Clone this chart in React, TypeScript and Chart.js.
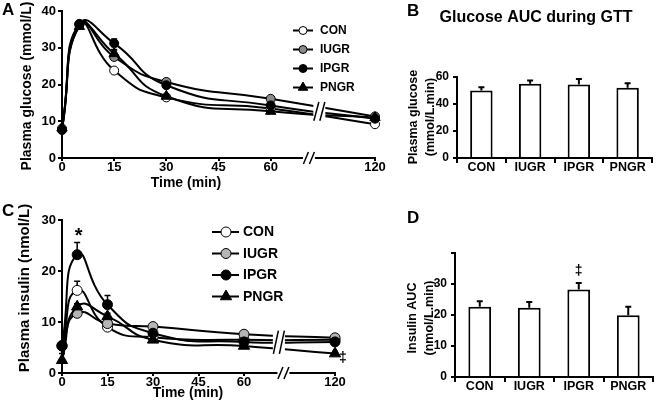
import React, { useEffect, useRef } from 'react';
import { Chart, registerables } from 'chart.js';

Chart.register(...registerables);

const FAMILY = "'Liberation Sans', Arial, Helvetica, sans-serif";

// ---------- data ----------
const groups = ['CON', 'IUGR', 'IPGR', 'PNGR'];
const times = [0, 5, 15, 30, 60, 120];
const timeTicks = [0, 15, 30, 45, 60, 120];

// Panel A: plasma glucose (mmol/L)
const glucoseCON = [7.8, 36.3, 23.8, 16.5, 13.5, 9.2];
const glucoseIUGR = [8.0, 36.5, 27.5, 20.7, 16.1, 11.3];
const glucoseIPGR = [7.6, 36.4, 31.2, 19.8, 14.3, 10.7];
const glucosePNGR = [8.2, 35.8, 28.4, 16.8, 12.7, 11.0];
const glucoseErrCON = [0.4, 0.6, 0.6, 0.5, 0.5, 0.4];
const glucoseErrIUGR = [0.4, 0.6, 2.0, 0.8, 0.5, 0.5];
const glucoseErrIPGR = [0.4, 0.6, 1.2, 0.6, 0.6, 0.5];
const glucoseErrPNGR = [0.4, 0.6, 1.0, 0.5, 0.5, 0.5];

// Panel C: plasma insulin (nmol/L)
const insulinCON = [5.3, 16.2, 9.0, 7.0, 6.5, 6.5];
const insulinIUGR = [5.4, 11.7, 9.7, 9.1, 7.6, 6.9];
const insulinIPGR = [5.3, 23.2, 13.4, 7.8, 6.1, 6.1];
const insulinPNGR = [2.5, 13.0, 11.1, 6.5, 5.3, 3.8];
const insulinErrCON = [0.5, 1.8, 0.5, 0.5, 0.6, 0.5];
const insulinErrIUGR = [0.4, 0.6, 0.6, 0.7, 0.7, 0.7];
const insulinErrIPGR = [0.5, 2.4, 1.8, 0.6, 0.5, 0.5];
const insulinErrPNGR = [1.3, 0.6, 0.6, 0.4, 0.4, 0.4];

// Panel B: glucose AUC (mmol/L.min)
const glucoseAUC = [50.0, 55.0, 54.5, 52.0];
const glucoseAUCErr = [2.5, 2.5, 4.0, 3.3];

// Panel D: insulin AUC (nmol/L.min)
const insulinAUC = [22.7, 22.3, 28.2, 19.9];
const insulinAUCErr = [1.7, 1.9, 2.1, 2.8];

// broken time axis: everything after 60 min is drawn at position 90
const BREAK_AFTER = 60;
const BROKEN_POS = 90;
const toAxis = (t: number) => (t <= BREAK_AFTER ? t : BROKEN_POS);

// ---------- helpers ----------
type Txt = { text: string; x: number; y: number; size: number; align?: CanvasTextAlign; rotate?: boolean };

function drawMarker(ctx: CanvasRenderingContext2D, tri: boolean, x: number, y: number, r: number, fill: string) {
  ctx.save();
  ctx.beginPath();
  if (!tri) {
    ctx.arc(x, y, r, 0, Math.PI * 2);
  } else {
    let a = 0;
    for (let k = 0; k < 3; k++) {
      const px = x + Math.sin(a) * r;
      const py = y - Math.cos(a) * r;
      if (k === 0) ctx.moveTo(px, py);
      else ctx.lineTo(px, py);
      a += (Math.PI * 2) / 3;
    }
    ctx.closePath();
  }
  ctx.fillStyle = fill;
  ctx.fill();
  ctx.lineWidth = 1;
  ctx.strokeStyle = '#000';
  ctx.stroke();
  ctx.restore();
}

const textPlugin = (id: string, items: Txt[]) => ({
  id,
  afterDraw(chart: any) {
    const ctx = chart.ctx as CanvasRenderingContext2D;
    items.forEach((t) => {
      ctx.save();
      ctx.font = `bold ${t.size}px ${FAMILY}`;
      ctx.fillStyle = '#000';
      ctx.textAlign = t.align || 'center';
      ctx.textBaseline = 'middle';
      ctx.translate(t.x, t.y);
      if (t.rotate) ctx.rotate(-Math.PI / 2);
      ctx.fillText(t.text, 0, 0);
      ctx.restore();
    });
  },
});

const legendPlugin = (
  id: string,
  s: { x1: number; x2: number; mx: number; tx: number; ys: number[]; r: number; size: number; fills: string[] }
) => ({
  id,
  afterDraw(chart: any) {
    const ctx = chart.ctx as CanvasRenderingContext2D;
    groups.forEach((g, i) => {
      const y = s.ys[i];
      ctx.save();
      ctx.strokeStyle = '#000';
      ctx.lineWidth = 2;
      ctx.beginPath();
      ctx.moveTo(s.x1, y);
      ctx.lineTo(s.x2, y);
      ctx.stroke();
      drawMarker(ctx, i === 3, s.mx, y, i === 3 ? s.r + 1.5 : s.r, s.fills[i]);
      ctx.font = `bold ${s.size}px ${FAMILY}`;
      ctx.fillStyle = '#000';
      ctx.textAlign = 'left';
      ctx.textBaseline = 'middle';
      ctx.fillText(g, s.tx, y + 0.5);
      ctx.restore();
    });
  },
});

const errorPlugin = (id: string, capHalf: number, width: number, after: boolean) => {
  const draw = (chart: any) => {
    const ctx = chart.ctx as CanvasRenderingContext2D;
    const ys = chart.scales.y;
    ctx.save();
    ctx.strokeStyle = '#000';
    ctx.lineWidth = width;
    chart.data.datasets.forEach((ds: any, i: number) => {
      const meta = chart.getDatasetMeta(i);
      meta.data.forEach((el: any, j: number) => {
        const d = ds.data[j];
        const v = typeof d === 'number' ? d : d.y;
        const top = ys.getPixelForValue(v + ds.err[j]);
        ctx.beginPath();
        ctx.moveTo(el.x, el.y);
        ctx.lineTo(el.x, top);
        ctx.moveTo(el.x - capHalf, top);
        ctx.lineTo(el.x + capHalf, top);
        ctx.stroke();
      });
    });
    ctx.restore();
  };
  return after ? { id, afterDatasetsDraw: draw } : { id, beforeDatasetsDraw: draw };
};

const breakPlugin = (id: string, lineBreakPos: number, axisBreakPos: number) => ({
  id,
  afterDatasetsDraw(chart: any) {
    const ctx = chart.ctx as CanvasRenderingContext2D;
    const { x } = chart.scales;
    const area = chart.chartArea;
    const bx = x.getPixelForValue(lineBreakPos);
    const ys: number[] = [];
    chart.data.datasets.forEach((_d: any, i: number) => {
      const m = chart.getDatasetMeta(i);
      const p1 = m.data[4];
      const p2 = m.data[5];
      const f = (bx - p1.x) / (p2.x - p1.x);
      ys.push(p1.y + f * (p2.y - p1.y));
    });
    const yTop = Math.min(...ys) - 5;
    const yBot = Math.max(...ys) + 5;
    ctx.save();
    ctx.fillStyle = '#fff';
    ctx.fillRect(bx - 6, yTop - 2, 12, yBot - yTop + 4);
    ctx.strokeStyle = '#000';
    ctx.lineWidth = 1.5;
    [-3, 3].forEach((dx) => {
      ctx.beginPath();
      ctx.moveTo(bx + dx + 2.5, yTop);
      ctx.lineTo(bx + dx - 2.5, yBot);
      ctx.stroke();
    });
    const ax = x.getPixelForValue(axisBreakPos);
    const by = area.bottom;
    ctx.fillRect(ax - 6, by - 3, 12, 6);
    [-3, 3].forEach((dx) => {
      ctx.beginPath();
      ctx.moveTo(ax + dx + 2.5, by - 6);
      ctx.lineTo(ax + dx - 2.5, by + 6);
      ctx.stroke();
    });
    ctx.restore();
  },
});

function lineDatasets(values: number[][], errs: number[][], fills: string[], r: number) {
  return groups.map((g, i) => ({
    label: g,
    data: times.map((t, j) => ({ x: toAxis(t), y: values[i][j] })),
    err: errs[i],
    order: 3 - i,
    borderColor: '#000',
    borderWidth: 2,
    tension: 0.55,
    clip: false as any,
    pointStyle: i === 3 ? 'triangle' : 'circle',
    pointRadius: i === 3 ? r + 1.5 : r,
    pointBackgroundColor: fills[i],
    pointBorderColor: '#000',
    pointBorderWidth: 1,
  }));
}

function lineOptions(p: {
  top: number; right: number; yWidth: number; xHeight: number; yMax: number; tickSize: number; xPad: number;
}) {
  return {
    responsive: false,
    animation: false as const,
    layout: { padding: { left: 0, top: p.top, right: p.right, bottom: 0 } },
    plugins: { legend: { display: false }, tooltip: { enabled: false } },
    scales: {
      x: {
        type: 'linear' as const,
        min: 0,
        max: BROKEN_POS,
        afterBuildTicks: (s: any) => {
          s.ticks = timeTicks.map((t) => ({ value: toAxis(t) }));
        },
        afterFit: (s: any) => {
          s.height = p.xHeight;
        },
        ticks: {
          autoSkip: false,
          maxRotation: 0,
          padding: p.xPad,
          color: '#000',
          font: { family: FAMILY, size: p.tickSize, weight: 'bold' as const },
          callback: (_v: any, i: number) => String(timeTicks[i]),
        },
        grid: { drawOnChartArea: false, drawTicks: true, tickLength: 3, color: '#000', lineWidth: 2 },
        border: { display: true, color: '#000', width: 2 },
      },
      y: {
        min: 0,
        max: p.yMax,
        afterFit: (s: any) => {
          s.width = p.yWidth;
        },
        ticks: {
          stepSize: 10,
          padding: 2,
          color: '#000',
          font: { family: FAMILY, size: p.tickSize, weight: 'bold' as const },
        },
        grid: { drawOnChartArea: false, drawTicks: true, tickLength: 4, color: '#000', lineWidth: 2 },
        border: { display: true, color: '#000', width: 2 },
      },
    },
  };
}

function barOptions(p: {
  top: number; right: number; yWidth: number; xHeight: number; yMax: number; step: number; hideMax: boolean;
}) {
  return {
    responsive: false,
    animation: false as const,
    layout: { padding: { left: 0, top: p.top, right: p.right, bottom: 0 } },
    plugins: { legend: { display: false }, tooltip: { enabled: false } },
    scales: {
      x: {
        afterFit: (s: any) => {
          s.height = p.xHeight;
        },
        ticks: {
          padding: -3,
          color: '#000',
          font: { family: FAMILY, size: 12.5, weight: 'bold' as const },
        },
        grid: { offset: true, drawOnChartArea: false, drawTicks: true, tickLength: 5, color: '#000', lineWidth: 2 },
        border: { display: true, color: '#000', width: 2 },
      },
      y: {
        min: 0,
        max: p.yMax,
        afterFit: (s: any) => {
          s.width = p.yWidth;
        },
        ticks: {
          stepSize: p.step,
          padding: 4,
          color: '#000',
          font: { family: FAMILY, size: 12, weight: 'bold' as const },
          callback: (v: any) => (p.hideMax && v === p.yMax ? '' : String(v)),
        },
        grid: { drawOnChartArea: false, drawTicks: true, tickLength: 4, color: '#000', lineWidth: 2 },
        border: { display: true, color: '#000', width: 2 },
      },
    },
  };
}

function barDataset(values: number[], errs: number[]) {
  return {
    labels: groups,
    datasets: [
      {
        data: values,
        err: errs,
        backgroundColor: '#fff',
        borderColor: '#000',
        borderWidth: 2,
        barPercentage: 0.46,
        categoryPercentage: 1,
      },
    ],
  };
}

export default function App() {
  const aRef = useRef<HTMLCanvasElement>(null);
  const bRef = useRef<HTMLCanvasElement>(null);
  const cRef = useRef<HTMLCanvasElement>(null);
  const dRef = useRef<HTMLCanvasElement>(null);

  useEffect(() => {
    Chart.defaults.font.family = FAMILY;
    const charts: Chart[] = [];

    // ----- Panel A -----
    const fillsA = ['#ffffff', '#8a8a8a', '#000000', '#000000'];
    charts.push(
      new Chart(aRef.current as HTMLCanvasElement, {
        type: 'line',
        data: {
          datasets: lineDatasets(
            [glucoseCON, glucoseIUGR, glucoseIPGR, glucosePNGR],
            [glucoseErrCON, glucoseErrIUGR, glucoseErrIPGR, glucoseErrPNGR],
            fillsA,
            4.5
          ) as any,
        },
        options: lineOptions({ top: 11, right: 25, yWidth: 62, xHeight: 42, yMax: 40, tickSize: 13, xPad: -1 }) as any,
        plugins: [
          errorPlugin('errA', 3, 1.5, false),
          breakPlugin('brkA', 74, 71),
          legendPlugin('legA', { x1: 293, x2: 313, mx: 303, tx: 320, ys: [30.5, 49.5, 68.5, 87.5], r: 4, size: 12, fills: fillsA }),
          textPlugin('txtA', [
            { text: 'A', x: 2, y: 10, size: 17, align: 'left' },
            { text: 'Plasma glucose (mmol/L)', x: 27, y: 86, size: 14, rotate: true },
            { text: 'Time (min)', x: 186, y: 183, size: 14 },
          ]),
        ],
      })
    );

    // ----- Panel C -----
    const fillsC = ['#ffffff', '#b5b5b5', '#000000', '#000000'];
    charts.push(
      new Chart(cRef.current as HTMLCanvasElement, {
        type: 'line',
        data: {
          datasets: lineDatasets(
            [insulinCON, insulinIUGR, insulinIPGR, insulinPNGR],
            [insulinErrCON, insulinErrIUGR, insulinErrIPGR, insulinErrPNGR],
            fillsC,
            5
          ) as any,
        },
        options: lineOptions({ top: 20, right: 65, yWidth: 62, xHeight: 33, yMax: 30, tickSize: 13, xPad: -1 }) as any,
        plugins: [
          errorPlugin('errC', 3, 1.5, false),
          breakPlugin('brkC', 71.5, 73),
          legendPlugin('legC', { x1: 212, x2: 239, mx: 226, tx: 243, ys: [32, 53.5, 75, 96.5], r: 5, size: 14, fills: fillsC }),
          textPlugin('txtC', [
            { text: 'C', x: 2, y: 11, size: 17, align: 'left' },
            { text: 'Plasma insulin (nmol/L)', x: 25, y: 88, size: 15, rotate: true },
            { text: 'Time (min)', x: 188, y: 193, size: 14 },
          ]),
          {
            id: 'marksC',
            afterDraw(chart: any) {
              const ctx = chart.ctx as CanvasRenderingContext2D;
              const xs = chart.scales.x;
              const ys = chart.scales.y;
              ctx.save();
              ctx.fillStyle = '#000';
              ctx.textAlign = 'center';
              ctx.font = `bold 20px ${FAMILY}`;
              ctx.textBaseline = 'alphabetic';
              const sx = xs.getPixelForValue(toAxis(times[1]));
              const sy = ys.getPixelForValue(insulinIPGR[1] + insulinErrIPGR[1]);
              ctx.fillText('*', sx + 1.5, sy);
              ctx.font = `bold 14px ${FAMILY}`;
              ctx.textBaseline = 'middle';
              const qx = xs.getPixelForValue(toAxis(times[5]));
              const qy = ys.getPixelForValue(insulinPNGR[5]);
              ctx.fillText('\u2021', qx + 8, qy + 5);
              ctx.restore();
            },
          },
        ],
      })
    );

    // ----- Panel B -----
    charts.push(
      new Chart(bRef.current as HTMLCanvasElement, {
        type: 'bar',
        data: barDataset(glucoseAUC, glucoseAUCErr) as any,
        options: barOptions({ top: 77, right: 4, yWidth: 57, xHeight: 42, yMax: 60, step: 20, hideMax: false }) as any,
        plugins: [
          errorPlugin('errB', 3, 2, true),
          textPlugin('txtB', [
            { text: 'B', x: 7, y: 11, size: 17, align: 'left' },
            { text: 'Glucose AUC during GTT', x: 136, y: 18, size: 16 },
            { text: 'Plasma glucose', x: 14, y: 117, size: 12.5, rotate: true },
            { text: '(mmol/L.min)', x: 31, y: 117, size: 12.5, rotate: true },
          ]),
        ],
      })
    );

    // ----- Panel D -----
    charts.push(
      new Chart(dRef.current as HTMLCanvasElement, {
        type: 'bar',
        data: barDataset(insulinAUC, insulinAUCErr) as any,
        options: barOptions({ top: 53, right: 3, yWidth: 55, xHeight: 29, yMax: 40, step: 10, hideMax: true }) as any,
        plugins: [
          errorPlugin('errD', 3, 2, true),
          textPlugin('txtD', [
            { text: 'D', x: 7, y: 18, size: 17, align: 'left' },
            { text: 'Insulin AUC', x: 13, y: 118, size: 12.5, rotate: true },
            { text: '(nmol/L.min)', x: 30, y: 118, size: 12.5, rotate: true },
          ]),
          {
            id: 'marksD',
            afterDraw(chart: any) {
              const ctx = chart.ctx as CanvasRenderingContext2D;
              const el = chart.getDatasetMeta(0).data[2];
              const top = chart.scales.y.getPixelForValue(insulinAUC[2] + insulinAUCErr[2]);
              ctx.save();
              ctx.fillStyle = '#000';
              ctx.font = `bold 14px ${FAMILY}`;
              ctx.textAlign = 'center';
              ctx.textBaseline = 'middle';
              ctx.fillText('\u2021', el.x, top - 12);
              ctx.restore();
            },
          },
        ],
      })
    );

    return () => {
      charts.forEach((c) => c.destroy());
    };
  }, []);

  const cs = (left: number, top: number): React.CSSProperties => ({
    position: 'absolute',
    left,
    top,
    display: 'block',
  });

  return (
    <div style={{ position: 'absolute', left: 0, top: 0, width: 656, height: 406, background: '#fff', overflow: 'hidden' }}>
      <canvas ref={aRef} width={400} height={200} style={cs(0, 0)} />
      <canvas ref={bRef} width={256} height={200} style={cs(400, 0)} />
      <canvas ref={cRef} width={400} height={206} style={cs(0, 200)} />
      <canvas ref={dRef} width={256} height={206} style={cs(400, 200)} />
    </div>
  );
}
